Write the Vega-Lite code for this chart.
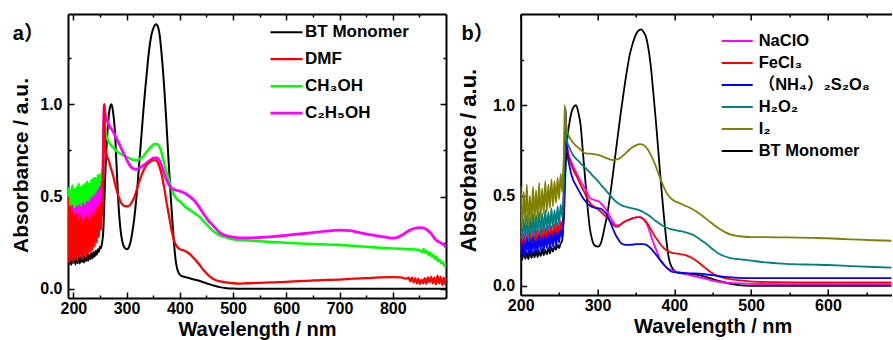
{
  "$schema": "https://vega.github.io/schema/vega-lite/v6.json",
  "background": "white",
  "padding": {"left": 10, "top": 13, "right": 0, "bottom": 0},
  "bounds": "flush",
  "spacing": 74.7,
  "resolve": {"scale": {"color": "independent", "strokeWidth": "independent", "x": "independent", "y": "independent"}},
  "config": {
    "view": {"stroke": null},
    "font": "Liberation Sans",
    "axis": {
      "grid": false,
      "domainColor": "#000",
      "domainWidth": 2,
      "tickColor": "#000",
      "tickWidth": 1.5,
      "labelFont": "Liberation Sans",
      "labelFontSize": 16,
      "labelFontWeight": "bold",
      "labelColor": "#000",
      "labelFlush": false,
      "labelOverlap": false,
      "titleFont": "Liberation Sans",
      "titleFontWeight": "bold",
      "titleColor": "#000"
    },
    "legend": {
      "orient": "none",
      "title": null,
      "padding": 0,
      "rowPadding": 0,
      "symbolType": "stroke",
      "labelFont": "Liberation Sans, Noto Sans CJK SC",
      "labelFontWeight": "bold",
      "labelColor": "#000",
      "labelLimit": 300
    }
  },
  "datasets": {
    "a": [
      {"set":"BT Monomer","nm":190,"A":0.17},{"set":"BT Monomer","nm":192,"A":0.135},{"set":"BT Monomer","nm":194,"A":0.18},{"set":"BT Monomer","nm":196,"A":0.13},{"set":"BT Monomer","nm":198,"A":0.165},{"set":"BT Monomer","nm":200,"A":0.14},{"set":"BT Monomer","nm":202,"A":0.178},{"set":"BT Monomer","nm":204,"A":0.132},{"set":"BT Monomer","nm":206,"A":0.17},{"set":"BT Monomer","nm":208,"A":0.14},{"set":"BT Monomer","nm":210,"A":0.182},{"set":"BT Monomer","nm":212,"A":0.137},{"set":"BT Monomer","nm":214,"A":0.172},{"set":"BT Monomer","nm":216,"A":0.145},{"set":"BT Monomer","nm":218,"A":0.185},{"set":"BT Monomer","nm":220,"A":0.142},{"set":"BT Monomer","nm":222,"A":0.176},{"set":"BT Monomer","nm":224,"A":0.15},{"set":"BT Monomer","nm":226,"A":0.188},{"set":"BT Monomer","nm":228,"A":0.152},{"set":"BT Monomer","nm":230,"A":0.185},{"set":"BT Monomer","nm":232,"A":0.16},{"set":"BT Monomer","nm":234,"A":0.195},{"set":"BT Monomer","nm":236,"A":0.165},{"set":"BT Monomer","nm":238,"A":0.2},{"set":"BT Monomer","nm":240,"A":0.175},{"set":"BT Monomer","nm":242,"A":0.205},{"set":"BT Monomer","nm":244,"A":0.185},{"set":"BT Monomer","nm":246,"A":0.215},{"set":"BT Monomer","nm":248,"A":0.2},{"set":"BT Monomer","nm":250,"A":0.228},{"set":"BT Monomer","nm":252,"A":0.22},{"set":"BT Monomer","nm":254,"A":0.25},{"set":"BT Monomer","nm":256,"A":0.3},{"set":"BT Monomer","nm":258.5,"A":0.49},{"set":"BT Monomer","nm":260,"A":0.62},{"set":"BT Monomer","nm":263,"A":0.8},{"set":"BT Monomer","nm":266,"A":0.92},{"set":"BT Monomer","nm":269,"A":0.985},{"set":"BT Monomer","nm":272,"A":1.0},{"set":"BT Monomer","nm":275,"A":0.95},{"set":"BT Monomer","nm":278,"A":0.86},{"set":"BT Monomer","nm":281,"A":0.68},{"set":"BT Monomer","nm":284,"A":0.5},{"set":"BT Monomer","nm":287,"A":0.37},{"set":"BT Monomer","nm":290,"A":0.29},{"set":"BT Monomer","nm":294,"A":0.235},{"set":"BT Monomer","nm":298,"A":0.218},{"set":"BT Monomer","nm":302,"A":0.215},{"set":"BT Monomer","nm":305,"A":0.23},{"set":"BT Monomer","nm":308,"A":0.26},{"set":"BT Monomer","nm":311,"A":0.31},{"set":"BT Monomer","nm":314,"A":0.37},{"set":"BT Monomer","nm":317,"A":0.45},{"set":"BT Monomer","nm":320,"A":0.54},{"set":"BT Monomer","nm":323,"A":0.65},{"set":"BT Monomer","nm":326,"A":0.76},{"set":"BT Monomer","nm":329,"A":0.87},{"set":"BT Monomer","nm":332,"A":0.98},{"set":"BT Monomer","nm":335,"A":1.08},{"set":"BT Monomer","nm":338,"A":1.17},{"set":"BT Monomer","nm":341,"A":1.26},{"set":"BT Monomer","nm":344,"A":1.33},{"set":"BT Monomer","nm":347,"A":1.38},{"set":"BT Monomer","nm":350,"A":1.41},{"set":"BT Monomer","nm":353,"A":1.43},{"set":"BT Monomer","nm":356,"A":1.435},{"set":"BT Monomer","nm":359,"A":1.42},{"set":"BT Monomer","nm":362,"A":1.38},{"set":"BT Monomer","nm":365,"A":1.3},{"set":"BT Monomer","nm":368,"A":1.2},{"set":"BT Monomer","nm":371,"A":1.08},{"set":"BT Monomer","nm":374,"A":0.94},{"set":"BT Monomer","nm":377,"A":0.79},{"set":"BT Monomer","nm":380,"A":0.64},{"set":"BT Monomer","nm":383,"A":0.5},{"set":"BT Monomer","nm":386,"A":0.37},{"set":"BT Monomer","nm":389,"A":0.25},{"set":"BT Monomer","nm":392,"A":0.16},{"set":"BT Monomer","nm":395,"A":0.11},{"set":"BT Monomer","nm":398,"A":0.085},{"set":"BT Monomer","nm":402,"A":0.072},{"set":"BT Monomer","nm":408,"A":0.065},{"set":"BT Monomer","nm":415,"A":0.06},{"set":"BT Monomer","nm":425,"A":0.052},{"set":"BT Monomer","nm":435,"A":0.045},{"set":"BT Monomer","nm":445,"A":0.035},{"set":"BT Monomer","nm":455,"A":0.025},{"set":"BT Monomer","nm":465,"A":0.016},{"set":"BT Monomer","nm":475,"A":0.009},{"set":"BT Monomer","nm":485,"A":0.004},{"set":"BT Monomer","nm":500,"A":0.001},{"set":"BT Monomer","nm":550,"A":0},{"set":"BT Monomer","nm":650,"A":0},{"set":"BT Monomer","nm":750,"A":0},{"set":"BT Monomer","nm":850,"A":0},{"set":"BT Monomer","nm":900,"A":0},

      {"set":"CH₃OH","nm":190,"A":0.55},{"set":"CH₃OH","nm":192,"A":0.3},{"set":"CH₃OH","nm":194,"A":0.53},{"set":"CH₃OH","nm":196,"A":0.33},{"set":"CH₃OH","nm":198,"A":0.56},{"set":"CH₃OH","nm":200,"A":0.32},{"set":"CH₃OH","nm":202,"A":0.54},{"set":"CH₃OH","nm":204,"A":0.34},{"set":"CH₃OH","nm":206,"A":0.55},{"set":"CH₃OH","nm":208,"A":0.33},{"set":"CH₃OH","nm":210,"A":0.57},{"set":"CH₃OH","nm":212,"A":0.36},{"set":"CH₃OH","nm":214,"A":0.55},{"set":"CH₃OH","nm":216,"A":0.35},{"set":"CH₃OH","nm":218,"A":0.56},{"set":"CH₃OH","nm":220,"A":0.38},{"set":"CH₃OH","nm":222,"A":0.57},{"set":"CH₃OH","nm":224,"A":0.37},{"set":"CH₃OH","nm":226,"A":0.58},{"set":"CH₃OH","nm":228,"A":0.4},{"set":"CH₃OH","nm":230,"A":0.57},{"set":"CH₃OH","nm":232,"A":0.41},{"set":"CH₃OH","nm":234,"A":0.59},{"set":"CH₃OH","nm":236,"A":0.43},{"set":"CH₃OH","nm":238,"A":0.6},{"set":"CH₃OH","nm":240,"A":0.44},{"set":"CH₃OH","nm":242,"A":0.6},{"set":"CH₃OH","nm":244,"A":0.47},{"set":"CH₃OH","nm":246,"A":0.62},{"set":"CH₃OH","nm":248,"A":0.5},{"set":"CH₃OH","nm":250,"A":0.62},{"set":"CH₃OH","nm":252,"A":0.54},{"set":"CH₃OH","nm":254,"A":0.65},{"set":"CH₃OH","nm":255,"A":0.6},{"set":"CH₃OH","nm":256,"A":0.7},{"set":"CH₃OH","nm":257,"A":0.85},{"set":"CH₃OH","nm":258,"A":0.92},{"set":"CH₃OH","nm":259,"A":0.88},{"set":"CH₃OH","nm":261,"A":0.84},{"set":"CH₃OH","nm":264,"A":0.81},{"set":"CH₃OH","nm":268,"A":0.79},{"set":"CH₃OH","nm":272,"A":0.775},{"set":"CH₃OH","nm":277,"A":0.76},{"set":"CH₃OH","nm":282,"A":0.745},{"set":"CH₃OH","nm":287,"A":0.735},{"set":"CH₃OH","nm":292,"A":0.728},{"set":"CH₃OH","nm":297,"A":0.72},{"set":"CH₃OH","nm":302,"A":0.712},{"set":"CH₃OH","nm":307,"A":0.705},{"set":"CH₃OH","nm":312,"A":0.7},{"set":"CH₃OH","nm":317,"A":0.697},{"set":"CH₃OH","nm":322,"A":0.7},{"set":"CH₃OH","nm":327,"A":0.708},{"set":"CH₃OH","nm":332,"A":0.72},{"set":"CH₃OH","nm":337,"A":0.74},{"set":"CH₃OH","nm":342,"A":0.758},{"set":"CH₃OH","nm":347,"A":0.773},{"set":"CH₃OH","nm":352,"A":0.785},{"set":"CH₃OH","nm":357,"A":0.785},{"set":"CH₃OH","nm":361,"A":0.775},{"set":"CH₃OH","nm":365,"A":0.745},{"set":"CH₃OH","nm":369,"A":0.7},{"set":"CH₃OH","nm":373,"A":0.655},{"set":"CH₃OH","nm":377,"A":0.613},{"set":"CH₃OH","nm":381,"A":0.575},{"set":"CH₃OH","nm":385,"A":0.54},{"set":"CH₃OH","nm":390,"A":0.505},{"set":"CH₃OH","nm":395,"A":0.485},{"set":"CH₃OH","nm":400,"A":0.475},{"set":"CH₃OH","nm":405,"A":0.46},{"set":"CH₃OH","nm":410,"A":0.445},{"set":"CH₃OH","nm":415,"A":0.435},{"set":"CH₃OH","nm":420,"A":0.425},{"set":"CH₃OH","nm":425,"A":0.415},{"set":"CH₃OH","nm":430,"A":0.405},{"set":"CH₃OH","nm":437,"A":0.39},{"set":"CH₃OH","nm":445,"A":0.365},{"set":"CH₃OH","nm":455,"A":0.335},{"set":"CH₃OH","nm":462,"A":0.315},{"set":"CH₃OH","nm":475,"A":0.29},{"set":"CH₃OH","nm":487,"A":0.279},{"set":"CH₃OH","nm":500,"A":0.268},{"set":"CH₃OH","nm":525,"A":0.263},{"set":"CH₃OH","nm":550,"A":0.258},{"set":"CH₃OH","nm":575,"A":0.254},{"set":"CH₃OH","nm":600,"A":0.25},{"set":"CH₃OH","nm":625,"A":0.246},{"set":"CH₃OH","nm":650,"A":0.243},{"set":"CH₃OH","nm":675,"A":0.24},{"set":"CH₃OH","nm":700,"A":0.238},{"set":"CH₃OH","nm":725,"A":0.233},{"set":"CH₃OH","nm":750,"A":0.228},{"set":"CH₃OH","nm":775,"A":0.223},{"set":"CH₃OH","nm":800,"A":0.219},{"set":"CH₃OH","nm":825,"A":0.215},{"set":"CH₃OH","nm":850,"A":0.21},{"set":"CH₃OH","nm":855,"A":0.2},{"set":"CH₃OH","nm":858,"A":0.215},{"set":"CH₃OH","nm":861,"A":0.195},{"set":"CH₃OH","nm":864,"A":0.205},{"set":"CH₃OH","nm":867,"A":0.185},{"set":"CH₃OH","nm":870,"A":0.196},{"set":"CH₃OH","nm":873,"A":0.175},{"set":"CH₃OH","nm":876,"A":0.185},{"set":"CH₃OH","nm":879,"A":0.162},{"set":"CH₃OH","nm":882,"A":0.172},{"set":"CH₃OH","nm":885,"A":0.15},{"set":"CH₃OH","nm":888,"A":0.158},{"set":"CH₃OH","nm":891,"A":0.138},{"set":"CH₃OH","nm":894,"A":0.145},{"set":"CH₃OH","nm":897,"A":0.125},{"set":"CH₃OH","nm":900,"A":0.13},

      {"set":"C₂H₅OH","nm":190,"A":0.44},{"set":"C₂H₅OH","nm":192,"A":0.29},{"set":"C₂H₅OH","nm":194,"A":0.43},{"set":"C₂H₅OH","nm":196,"A":0.3},{"set":"C₂H₅OH","nm":198,"A":0.45},{"set":"C₂H₅OH","nm":200,"A":0.31},{"set":"C₂H₅OH","nm":202,"A":0.43},{"set":"C₂H₅OH","nm":204,"A":0.3},{"set":"C₂H₅OH","nm":206,"A":0.44},{"set":"C₂H₅OH","nm":208,"A":0.32},{"set":"C₂H₅OH","nm":210,"A":0.45},{"set":"C₂H₅OH","nm":212,"A":0.33},{"set":"C₂H₅OH","nm":214,"A":0.44},{"set":"C₂H₅OH","nm":216,"A":0.32},{"set":"C₂H₅OH","nm":218,"A":0.46},{"set":"C₂H₅OH","nm":220,"A":0.34},{"set":"C₂H₅OH","nm":222,"A":0.45},{"set":"C₂H₅OH","nm":224,"A":0.35},{"set":"C₂H₅OH","nm":226,"A":0.47},{"set":"C₂H₅OH","nm":228,"A":0.36},{"set":"C₂H₅OH","nm":230,"A":0.47},{"set":"C₂H₅OH","nm":232,"A":0.37},{"set":"C₂H₅OH","nm":234,"A":0.49},{"set":"C₂H₅OH","nm":236,"A":0.38},{"set":"C₂H₅OH","nm":238,"A":0.5},{"set":"C₂H₅OH","nm":240,"A":0.4},{"set":"C₂H₅OH","nm":242,"A":0.51},{"set":"C₂H₅OH","nm":244,"A":0.42},{"set":"C₂H₅OH","nm":246,"A":0.53},{"set":"C₂H₅OH","nm":248,"A":0.44},{"set":"C₂H₅OH","nm":250,"A":0.55},{"set":"C₂H₅OH","nm":252,"A":0.48},{"set":"C₂H₅OH","nm":254,"A":0.58},{"set":"C₂H₅OH","nm":255,"A":0.56},{"set":"C₂H₅OH","nm":256,"A":0.68},{"set":"C₂H₅OH","nm":257,"A":0.88},{"set":"C₂H₅OH","nm":258,"A":1.0},{"set":"C₂H₅OH","nm":259,"A":0.97},{"set":"C₂H₅OH","nm":261,"A":0.93},{"set":"C₂H₅OH","nm":264,"A":0.91},{"set":"C₂H₅OH","nm":268,"A":0.88},{"set":"C₂H₅OH","nm":272,"A":0.865},{"set":"C₂H₅OH","nm":277,"A":0.84},{"set":"C₂H₅OH","nm":282,"A":0.81},{"set":"C₂H₅OH","nm":287,"A":0.78},{"set":"C₂H₅OH","nm":292,"A":0.75},{"set":"C₂H₅OH","nm":297,"A":0.72},{"set":"C₂H₅OH","nm":302,"A":0.69},{"set":"C₂H₅OH","nm":307,"A":0.665},{"set":"C₂H₅OH","nm":312,"A":0.652},{"set":"C₂H₅OH","nm":317,"A":0.648},{"set":"C₂H₅OH","nm":322,"A":0.652},{"set":"C₂H₅OH","nm":327,"A":0.66},{"set":"C₂H₅OH","nm":332,"A":0.67},{"set":"C₂H₅OH","nm":337,"A":0.68},{"set":"C₂H₅OH","nm":342,"A":0.692},{"set":"C₂H₅OH","nm":347,"A":0.703},{"set":"C₂H₅OH","nm":352,"A":0.71},{"set":"C₂H₅OH","nm":357,"A":0.71},{"set":"C₂H₅OH","nm":361,"A":0.7},{"set":"C₂H₅OH","nm":365,"A":0.675},{"set":"C₂H₅OH","nm":369,"A":0.64},{"set":"C₂H₅OH","nm":373,"A":0.605},{"set":"C₂H₅OH","nm":377,"A":0.578},{"set":"C₂H₅OH","nm":381,"A":0.558},{"set":"C₂H₅OH","nm":385,"A":0.545},{"set":"C₂H₅OH","nm":390,"A":0.537},{"set":"C₂H₅OH","nm":395,"A":0.533},{"set":"C₂H₅OH","nm":400,"A":0.53},{"set":"C₂H₅OH","nm":405,"A":0.525},{"set":"C₂H₅OH","nm":410,"A":0.518},{"set":"C₂H₅OH","nm":415,"A":0.508},{"set":"C₂H₅OH","nm":420,"A":0.497},{"set":"C₂H₅OH","nm":425,"A":0.485},{"set":"C₂H₅OH","nm":430,"A":0.468},{"set":"C₂H₅OH","nm":437,"A":0.44},{"set":"C₂H₅OH","nm":445,"A":0.405},{"set":"C₂H₅OH","nm":455,"A":0.365},{"set":"C₂H₅OH","nm":462,"A":0.345},{"set":"C₂H₅OH","nm":475,"A":0.305},{"set":"C₂H₅OH","nm":487,"A":0.288},{"set":"C₂H₅OH","nm":500,"A":0.28},{"set":"C₂H₅OH","nm":512,"A":0.276},{"set":"C₂H₅OH","nm":525,"A":0.276},{"set":"C₂H₅OH","nm":550,"A":0.278},{"set":"C₂H₅OH","nm":575,"A":0.283},{"set":"C₂H₅OH","nm":600,"A":0.29},{"set":"C₂H₅OH","nm":625,"A":0.297},{"set":"C₂H₅OH","nm":650,"A":0.305},{"set":"C₂H₅OH","nm":675,"A":0.313},{"set":"C₂H₅OH","nm":700,"A":0.318},{"set":"C₂H₅OH","nm":720,"A":0.315},{"set":"C₂H₅OH","nm":740,"A":0.303},{"set":"C₂H₅OH","nm":760,"A":0.292},{"set":"C₂H₅OH","nm":780,"A":0.283},{"set":"C₂H₅OH","nm":800,"A":0.275},{"set":"C₂H₅OH","nm":810,"A":0.28},{"set":"C₂H₅OH","nm":820,"A":0.296},{"set":"C₂H₅OH","nm":830,"A":0.315},{"set":"C₂H₅OH","nm":840,"A":0.327},{"set":"C₂H₅OH","nm":850,"A":0.332},{"set":"C₂H₅OH","nm":858,"A":0.33},{"set":"C₂H₅OH","nm":865,"A":0.318},{"set":"C₂H₅OH","nm":872,"A":0.3},{"set":"C₂H₅OH","nm":878,"A":0.275},{"set":"C₂H₅OH","nm":884,"A":0.258},{"set":"C₂H₅OH","nm":890,"A":0.25},{"set":"C₂H₅OH","nm":895,"A":0.24},{"set":"C₂H₅OH","nm":900,"A":0.225},

      {"set":"DMF","nm":190,"A":0.5},{"set":"DMF","nm":192,"A":0.14},{"set":"DMF","nm":194,"A":0.45},{"set":"DMF","nm":196,"A":0.15},{"set":"DMF","nm":198,"A":0.42},{"set":"DMF","nm":200,"A":0.14},{"set":"DMF","nm":202,"A":0.4},{"set":"DMF","nm":204,"A":0.16},{"set":"DMF","nm":206,"A":0.41},{"set":"DMF","nm":208,"A":0.15},{"set":"DMF","nm":210,"A":0.38},{"set":"DMF","nm":212,"A":0.17},{"set":"DMF","nm":214,"A":0.4},{"set":"DMF","nm":216,"A":0.16},{"set":"DMF","nm":218,"A":0.37},{"set":"DMF","nm":220,"A":0.18},{"set":"DMF","nm":222,"A":0.39},{"set":"DMF","nm":224,"A":0.17},{"set":"DMF","nm":226,"A":0.4},{"set":"DMF","nm":228,"A":0.19},{"set":"DMF","nm":230,"A":0.38},{"set":"DMF","nm":232,"A":0.2},{"set":"DMF","nm":234,"A":0.42},{"set":"DMF","nm":236,"A":0.21},{"set":"DMF","nm":238,"A":0.4},{"set":"DMF","nm":240,"A":0.23},{"set":"DMF","nm":242,"A":0.44},{"set":"DMF","nm":244,"A":0.25},{"set":"DMF","nm":246,"A":0.45},{"set":"DMF","nm":248,"A":0.28},{"set":"DMF","nm":250,"A":0.47},{"set":"DMF","nm":252,"A":0.32},{"set":"DMF","nm":254,"A":0.5},{"set":"DMF","nm":255,"A":0.4},{"set":"DMF","nm":256,"A":0.6},{"set":"DMF","nm":257,"A":0.85},{"set":"DMF","nm":258,"A":1.0},{"set":"DMF","nm":259,"A":0.85},{"set":"DMF","nm":260,"A":0.76},{"set":"DMF","nm":263,"A":0.72},{"set":"DMF","nm":266,"A":0.7},{"set":"DMF","nm":270,"A":0.66},{"set":"DMF","nm":275,"A":0.61},{"set":"DMF","nm":280,"A":0.55},{"set":"DMF","nm":285,"A":0.5},{"set":"DMF","nm":290,"A":0.465},{"set":"DMF","nm":295,"A":0.45},{"set":"DMF","nm":300,"A":0.447},{"set":"DMF","nm":305,"A":0.45},{"set":"DMF","nm":310,"A":0.47},{"set":"DMF","nm":315,"A":0.5},{"set":"DMF","nm":320,"A":0.545},{"set":"DMF","nm":325,"A":0.59},{"set":"DMF","nm":330,"A":0.63},{"set":"DMF","nm":335,"A":0.66},{"set":"DMF","nm":340,"A":0.68},{"set":"DMF","nm":345,"A":0.69},{"set":"DMF","nm":350,"A":0.697},{"set":"DMF","nm":355,"A":0.698},{"set":"DMF","nm":360,"A":0.675},{"set":"DMF","nm":365,"A":0.63},{"set":"DMF","nm":370,"A":0.56},{"set":"DMF","nm":375,"A":0.47},{"set":"DMF","nm":380,"A":0.39},{"set":"DMF","nm":385,"A":0.31},{"set":"DMF","nm":390,"A":0.255},{"set":"DMF","nm":395,"A":0.228},{"set":"DMF","nm":400,"A":0.215},{"set":"DMF","nm":405,"A":0.21},{"set":"DMF","nm":410,"A":0.205},{"set":"DMF","nm":415,"A":0.197},{"set":"DMF","nm":420,"A":0.185},{"set":"DMF","nm":425,"A":0.17},{"set":"DMF","nm":430,"A":0.155},{"set":"DMF","nm":437,"A":0.13},{"set":"DMF","nm":445,"A":0.1},{"set":"DMF","nm":455,"A":0.07},{"set":"DMF","nm":465,"A":0.05},{"set":"DMF","nm":475,"A":0.04},{"set":"DMF","nm":487,"A":0.035},{"set":"DMF","nm":500,"A":0.03},{"set":"DMF","nm":512,"A":0.028},{"set":"DMF","nm":525,"A":0.03},{"set":"DMF","nm":550,"A":0.032},{"set":"DMF","nm":575,"A":0.035},{"set":"DMF","nm":600,"A":0.038},{"set":"DMF","nm":625,"A":0.042},{"set":"DMF","nm":650,"A":0.045},{"set":"DMF","nm":675,"A":0.048},{"set":"DMF","nm":700,"A":0.05},{"set":"DMF","nm":725,"A":0.055},{"set":"DMF","nm":750,"A":0.058},{"set":"DMF","nm":775,"A":0.062},{"set":"DMF","nm":800,"A":0.063},{"set":"DMF","nm":815,"A":0.062},{"set":"DMF","nm":825,"A":0.055},{"set":"DMF","nm":830,"A":0.06},{"set":"DMF","nm":833,"A":0.04},{"set":"DMF","nm":836,"A":0.062},{"set":"DMF","nm":839,"A":0.035},{"set":"DMF","nm":842,"A":0.058},{"set":"DMF","nm":845,"A":0.03},{"set":"DMF","nm":848,"A":0.055},{"set":"DMF","nm":851,"A":0.025},{"set":"DMF","nm":854,"A":0.05},{"set":"DMF","nm":857,"A":0.03},{"set":"DMF","nm":860,"A":0.058},{"set":"DMF","nm":863,"A":0.028},{"set":"DMF","nm":866,"A":0.062},{"set":"DMF","nm":869,"A":0.035},{"set":"DMF","nm":872,"A":0.065},{"set":"DMF","nm":875,"A":0.03},{"set":"DMF","nm":878,"A":0.06},{"set":"DMF","nm":881,"A":0.025},{"set":"DMF","nm":884,"A":0.07},{"set":"DMF","nm":887,"A":0.03},{"set":"DMF","nm":890,"A":0.065},{"set":"DMF","nm":893,"A":0.02},{"set":"DMF","nm":896,"A":0.06},{"set":"DMF","nm":899,"A":0.025},{"set":"DMF","nm":900,"A":0.04}
    ],
    "b": [
      {"set":"BT Monomer","nm":200,"A":0.19},{"set":"BT Monomer","nm":202,"A":0.145},{"set":"BT Monomer","nm":204,"A":0.2},{"set":"BT Monomer","nm":206,"A":0.15},{"set":"BT Monomer","nm":208,"A":0.185},{"set":"BT Monomer","nm":210,"A":0.148},{"set":"BT Monomer","nm":212,"A":0.195},{"set":"BT Monomer","nm":214,"A":0.155},{"set":"BT Monomer","nm":216,"A":0.19},{"set":"BT Monomer","nm":218,"A":0.158},{"set":"BT Monomer","nm":220,"A":0.2},{"set":"BT Monomer","nm":222,"A":0.16},{"set":"BT Monomer","nm":224,"A":0.196},{"set":"BT Monomer","nm":226,"A":0.165},{"set":"BT Monomer","nm":228,"A":0.205},{"set":"BT Monomer","nm":230,"A":0.17},{"set":"BT Monomer","nm":232,"A":0.2},{"set":"BT Monomer","nm":234,"A":0.175},{"set":"BT Monomer","nm":236,"A":0.21},{"set":"BT Monomer","nm":238,"A":0.18},{"set":"BT Monomer","nm":240,"A":0.215},{"set":"BT Monomer","nm":242,"A":0.19},{"set":"BT Monomer","nm":244,"A":0.22},{"set":"BT Monomer","nm":246,"A":0.2},{"set":"BT Monomer","nm":248,"A":0.228},{"set":"BT Monomer","nm":250,"A":0.21},{"set":"BT Monomer","nm":252,"A":0.235},{"set":"BT Monomer","nm":254,"A":0.25},{"set":"BT Monomer","nm":255,"A":0.3},{"set":"BT Monomer","nm":256.5,"A":0.4},{"set":"BT Monomer","nm":258,"A":0.6},{"set":"BT Monomer","nm":260,"A":0.78},{"set":"BT Monomer","nm":263,"A":0.89},{"set":"BT Monomer","nm":266,"A":0.96},{"set":"BT Monomer","nm":269,"A":0.99},{"set":"BT Monomer","nm":272,"A":1.0},{"set":"BT Monomer","nm":275,"A":0.96},{"set":"BT Monomer","nm":278,"A":0.89},{"set":"BT Monomer","nm":281,"A":0.74},{"set":"BT Monomer","nm":284,"A":0.59},{"set":"BT Monomer","nm":287,"A":0.44},{"set":"BT Monomer","nm":290,"A":0.32},{"set":"BT Monomer","nm":293,"A":0.255},{"set":"BT Monomer","nm":296,"A":0.225},{"set":"BT Monomer","nm":300,"A":0.218},{"set":"BT Monomer","nm":303,"A":0.225},{"set":"BT Monomer","nm":306,"A":0.26},{"set":"BT Monomer","nm":309,"A":0.32},{"set":"BT Monomer","nm":312,"A":0.38},{"set":"BT Monomer","nm":315,"A":0.46},{"set":"BT Monomer","nm":318,"A":0.55},{"set":"BT Monomer","nm":321,"A":0.65},{"set":"BT Monomer","nm":324,"A":0.75},{"set":"BT Monomer","nm":327,"A":0.85},{"set":"BT Monomer","nm":330,"A":0.95},{"set":"BT Monomer","nm":333,"A":1.04},{"set":"BT Monomer","nm":336,"A":1.13},{"set":"BT Monomer","nm":339,"A":1.21},{"set":"BT Monomer","nm":342,"A":1.28},{"set":"BT Monomer","nm":345,"A":1.33},{"set":"BT Monomer","nm":348,"A":1.37},{"set":"BT Monomer","nm":351,"A":1.4},{"set":"BT Monomer","nm":354,"A":1.415},{"set":"BT Monomer","nm":357,"A":1.42},{"set":"BT Monomer","nm":360,"A":1.405},{"set":"BT Monomer","nm":363,"A":1.38},{"set":"BT Monomer","nm":366,"A":1.32},{"set":"BT Monomer","nm":369,"A":1.23},{"set":"BT Monomer","nm":372,"A":1.1},{"set":"BT Monomer","nm":375,"A":0.96},{"set":"BT Monomer","nm":378,"A":0.81},{"set":"BT Monomer","nm":381,"A":0.65},{"set":"BT Monomer","nm":384,"A":0.5},{"set":"BT Monomer","nm":387,"A":0.36},{"set":"BT Monomer","nm":390,"A":0.24},{"set":"BT Monomer","nm":393,"A":0.15},{"set":"BT Monomer","nm":396,"A":0.11},{"set":"BT Monomer","nm":400,"A":0.085},{"set":"BT Monomer","nm":405,"A":0.075},{"set":"BT Monomer","nm":412,"A":0.068},{"set":"BT Monomer","nm":420,"A":0.065},{"set":"BT Monomer","nm":432,"A":0.06},{"set":"BT Monomer","nm":445,"A":0.045},{"set":"BT Monomer","nm":458,"A":0.028},{"set":"BT Monomer","nm":470,"A":0.015},{"set":"BT Monomer","nm":484,"A":0.005},{"set":"BT Monomer","nm":500,"A":0.001},{"set":"BT Monomer","nm":525,"A":0},{"set":"BT Monomer","nm":600,"A":0},{"set":"BT Monomer","nm":683,"A":0},

      {"set":"NaClO","nm":200,"A":0.29},{"set":"NaClO","nm":202,"A":0.2},{"set":"NaClO","nm":204,"A":0.28},{"set":"NaClO","nm":206,"A":0.21},{"set":"NaClO","nm":208,"A":0.3},{"set":"NaClO","nm":210,"A":0.2},{"set":"NaClO","nm":212,"A":0.29},{"set":"NaClO","nm":214,"A":0.22},{"set":"NaClO","nm":216,"A":0.31},{"set":"NaClO","nm":218,"A":0.21},{"set":"NaClO","nm":220,"A":0.3},{"set":"NaClO","nm":222,"A":0.23},{"set":"NaClO","nm":224,"A":0.31},{"set":"NaClO","nm":226,"A":0.22},{"set":"NaClO","nm":228,"A":0.32},{"set":"NaClO","nm":230,"A":0.24},{"set":"NaClO","nm":232,"A":0.31},{"set":"NaClO","nm":234,"A":0.24},{"set":"NaClO","nm":236,"A":0.33},{"set":"NaClO","nm":238,"A":0.25},{"set":"NaClO","nm":240,"A":0.32},{"set":"NaClO","nm":242,"A":0.26},{"set":"NaClO","nm":244,"A":0.34},{"set":"NaClO","nm":246,"A":0.26},{"set":"NaClO","nm":248,"A":0.35},{"set":"NaClO","nm":250,"A":0.28},{"set":"NaClO","nm":252,"A":0.36},{"set":"NaClO","nm":254,"A":0.3},{"set":"NaClO","nm":255,"A":0.36},{"set":"NaClO","nm":256,"A":0.5},{"set":"NaClO","nm":257,"A":0.75},{"set":"NaClO","nm":258,"A":0.9},{"set":"NaClO","nm":259.5,"A":0.82},{"set":"NaClO","nm":261,"A":0.76},{"set":"NaClO","nm":263,"A":0.72},{"set":"NaClO","nm":266,"A":0.685},{"set":"NaClO","nm":269.5,"A":0.651},{"set":"NaClO","nm":273,"A":0.622},{"set":"NaClO","nm":276,"A":0.597},{"set":"NaClO","nm":279,"A":0.572},{"set":"NaClO","nm":282.5,"A":0.549},{"set":"NaClO","nm":286,"A":0.52},{"set":"NaClO","nm":289,"A":0.494},{"set":"NaClO","nm":292,"A":0.482},{"set":"NaClO","nm":295.5,"A":0.476},{"set":"NaClO","nm":299,"A":0.472},{"set":"NaClO","nm":302,"A":0.467},{"set":"NaClO","nm":305,"A":0.455},{"set":"NaClO","nm":308.5,"A":0.439},{"set":"NaClO","nm":312,"A":0.415},{"set":"NaClO","nm":315,"A":0.393},{"set":"NaClO","nm":318,"A":0.37},{"set":"NaClO","nm":321,"A":0.35},{"set":"NaClO","nm":324,"A":0.337},{"set":"NaClO","nm":327,"A":0.335},{"set":"NaClO","nm":330,"A":0.34},{"set":"NaClO","nm":334,"A":0.352},{"set":"NaClO","nm":338,"A":0.362},{"set":"NaClO","nm":342,"A":0.368},{"set":"NaClO","nm":346,"A":0.375},{"set":"NaClO","nm":350,"A":0.38},{"set":"NaClO","nm":354,"A":0.381},{"set":"NaClO","nm":358,"A":0.376},{"set":"NaClO","nm":362,"A":0.358},{"set":"NaClO","nm":365,"A":0.335},{"set":"NaClO","nm":368,"A":0.3},{"set":"NaClO","nm":371,"A":0.26},{"set":"NaClO","nm":374,"A":0.225},{"set":"NaClO","nm":378,"A":0.183},{"set":"NaClO","nm":381,"A":0.15},{"set":"NaClO","nm":384.5,"A":0.13},{"set":"NaClO","nm":388,"A":0.11},{"set":"NaClO","nm":392,"A":0.095},{"set":"NaClO","nm":396,"A":0.088},{"set":"NaClO","nm":401,"A":0.08},{"set":"NaClO","nm":406,"A":0.076},{"set":"NaClO","nm":412,"A":0.07},{"set":"NaClO","nm":420,"A":0.06},{"set":"NaClO","nm":430,"A":0.05},{"set":"NaClO","nm":440,"A":0.04},{"set":"NaClO","nm":450,"A":0.03},{"set":"NaClO","nm":460,"A":0.022},{"set":"NaClO","nm":472,"A":0.017},{"set":"NaClO","nm":484,"A":0.014},{"set":"NaClO","nm":500,"A":0.012},{"set":"NaClO","nm":515,"A":0.011},{"set":"NaClO","nm":540,"A":0.01},{"set":"NaClO","nm":600,"A":0.01},{"set":"NaClO","nm":683,"A":0.01},

      {"set":"FeCl₃","nm":200,"A":0.28},{"set":"FeCl₃","nm":202,"A":0.21},{"set":"FeCl₃","nm":204,"A":0.29},{"set":"FeCl₃","nm":206,"A":0.2},{"set":"FeCl₃","nm":208,"A":0.27},{"set":"FeCl₃","nm":210,"A":0.22},{"set":"FeCl₃","nm":212,"A":0.3},{"set":"FeCl₃","nm":214,"A":0.21},{"set":"FeCl₃","nm":216,"A":0.28},{"set":"FeCl₃","nm":218,"A":0.23},{"set":"FeCl₃","nm":220,"A":0.31},{"set":"FeCl₃","nm":222,"A":0.22},{"set":"FeCl₃","nm":224,"A":0.29},{"set":"FeCl₃","nm":226,"A":0.24},{"set":"FeCl₃","nm":228,"A":0.31},{"set":"FeCl₃","nm":230,"A":0.23},{"set":"FeCl₃","nm":232,"A":0.32},{"set":"FeCl₃","nm":234,"A":0.25},{"set":"FeCl₃","nm":236,"A":0.31},{"set":"FeCl₃","nm":238,"A":0.26},{"set":"FeCl₃","nm":240,"A":0.33},{"set":"FeCl₃","nm":242,"A":0.25},{"set":"FeCl₃","nm":244,"A":0.34},{"set":"FeCl₃","nm":246,"A":0.27},{"set":"FeCl₃","nm":248,"A":0.34},{"set":"FeCl₃","nm":250,"A":0.28},{"set":"FeCl₃","nm":252,"A":0.35},{"set":"FeCl₃","nm":254,"A":0.31},{"set":"FeCl₃","nm":255,"A":0.36},{"set":"FeCl₃","nm":256,"A":0.48},{"set":"FeCl₃","nm":257,"A":0.72},{"set":"FeCl₃","nm":258,"A":0.88},{"set":"FeCl₃","nm":259.5,"A":0.8},{"set":"FeCl₃","nm":261,"A":0.74},{"set":"FeCl₃","nm":263,"A":0.71},{"set":"FeCl₃","nm":266,"A":0.67},{"set":"FeCl₃","nm":269.5,"A":0.633},{"set":"FeCl₃","nm":273,"A":0.605},{"set":"FeCl₃","nm":276,"A":0.578},{"set":"FeCl₃","nm":279,"A":0.55},{"set":"FeCl₃","nm":282.5,"A":0.522},{"set":"FeCl₃","nm":286,"A":0.49},{"set":"FeCl₃","nm":289,"A":0.467},{"set":"FeCl₃","nm":292,"A":0.45},{"set":"FeCl₃","nm":295.5,"A":0.44},{"set":"FeCl₃","nm":299,"A":0.43},{"set":"FeCl₃","nm":302,"A":0.42},{"set":"FeCl₃","nm":305,"A":0.407},{"set":"FeCl₃","nm":308.5,"A":0.393},{"set":"FeCl₃","nm":312,"A":0.38},{"set":"FeCl₃","nm":315,"A":0.365},{"set":"FeCl₃","nm":318,"A":0.35},{"set":"FeCl₃","nm":321,"A":0.336},{"set":"FeCl₃","nm":324,"A":0.328},{"set":"FeCl₃","nm":327,"A":0.33},{"set":"FeCl₃","nm":330,"A":0.34},{"set":"FeCl₃","nm":334,"A":0.352},{"set":"FeCl₃","nm":338,"A":0.362},{"set":"FeCl₃","nm":342,"A":0.368},{"set":"FeCl₃","nm":346,"A":0.375},{"set":"FeCl₃","nm":350,"A":0.38},{"set":"FeCl₃","nm":354,"A":0.381},{"set":"FeCl₃","nm":358,"A":0.376},{"set":"FeCl₃","nm":362,"A":0.362},{"set":"FeCl₃","nm":365,"A":0.345},{"set":"FeCl₃","nm":368,"A":0.324},{"set":"FeCl₃","nm":371,"A":0.302},{"set":"FeCl₃","nm":374,"A":0.279},{"set":"FeCl₃","nm":378,"A":0.255},{"set":"FeCl₃","nm":381,"A":0.236},{"set":"FeCl₃","nm":384.5,"A":0.218},{"set":"FeCl₃","nm":388,"A":0.203},{"set":"FeCl₃","nm":392,"A":0.192},{"set":"FeCl₃","nm":396,"A":0.185},{"set":"FeCl₃","nm":401,"A":0.18},{"set":"FeCl₃","nm":406,"A":0.178},{"set":"FeCl₃","nm":412,"A":0.173},{"set":"FeCl₃","nm":418,"A":0.165},{"set":"FeCl₃","nm":424,"A":0.152},{"set":"FeCl₃","nm":430,"A":0.135},{"set":"FeCl₃","nm":436,"A":0.115},{"set":"FeCl₃","nm":442,"A":0.094},{"set":"FeCl₃","nm":448,"A":0.075},{"set":"FeCl₃","nm":454,"A":0.06},{"set":"FeCl₃","nm":460,"A":0.05},{"set":"FeCl₃","nm":467,"A":0.042},{"set":"FeCl₃","nm":475,"A":0.037},{"set":"FeCl₃","nm":485,"A":0.031},{"set":"FeCl₃","nm":495,"A":0.027},{"set":"FeCl₃","nm":510,"A":0.023},{"set":"FeCl₃","nm":530,"A":0.021},{"set":"FeCl₃","nm":560,"A":0.02},{"set":"FeCl₃","nm":600,"A":0.02},{"set":"FeCl₃","nm":640,"A":0.02},{"set":"FeCl₃","nm":683,"A":0.02},

      {"set":"（NH₄）₂S₂O₈","nm":200,"A":0.26},{"set":"（NH₄）₂S₂O₈","nm":202,"A":0.17},{"set":"（NH₄）₂S₂O₈","nm":204,"A":0.25},{"set":"（NH₄）₂S₂O₈","nm":206,"A":0.16},{"set":"（NH₄）₂S₂O₈","nm":208,"A":0.27},{"set":"（NH₄）₂S₂O₈","nm":210,"A":0.18},{"set":"（NH₄）₂S₂O₈","nm":212,"A":0.26},{"set":"（NH₄）₂S₂O₈","nm":214,"A":0.17},{"set":"（NH₄）₂S₂O₈","nm":216,"A":0.27},{"set":"（NH₄）₂S₂O₈","nm":218,"A":0.19},{"set":"（NH₄）₂S₂O₈","nm":220,"A":0.26},{"set":"（NH₄）₂S₂O₈","nm":222,"A":0.18},{"set":"（NH₄）₂S₂O₈","nm":224,"A":0.28},{"set":"（NH₄）₂S₂O₈","nm":226,"A":0.2},{"set":"（NH₄）₂S₂O₈","nm":228,"A":0.27},{"set":"（NH₄）₂S₂O₈","nm":230,"A":0.19},{"set":"（NH₄）₂S₂O₈","nm":232,"A":0.28},{"set":"（NH₄）₂S₂O₈","nm":234,"A":0.21},{"set":"（NH₄）₂S₂O₈","nm":236,"A":0.29},{"set":"（NH₄）₂S₂O₈","nm":238,"A":0.2},{"set":"（NH₄）₂S₂O₈","nm":240,"A":0.29},{"set":"（NH₄）₂S₂O₈","nm":242,"A":0.22},{"set":"（NH₄）₂S₂O₈","nm":244,"A":0.3},{"set":"（NH₄）₂S₂O₈","nm":246,"A":0.22},{"set":"（NH₄）₂S₂O₈","nm":248,"A":0.3},{"set":"（NH₄）₂S₂O₈","nm":250,"A":0.24},{"set":"（NH₄）₂S₂O₈","nm":252,"A":0.31},{"set":"（NH₄）₂S₂O₈","nm":254,"A":0.27},{"set":"（NH₄）₂S₂O₈","nm":255,"A":0.32},{"set":"（NH₄）₂S₂O₈","nm":256,"A":0.45},{"set":"（NH₄）₂S₂O₈","nm":257,"A":0.7},{"set":"（NH₄）₂S₂O₈","nm":258.5,"A":0.98},{"set":"（NH₄）₂S₂O₈","nm":259.5,"A":0.85},{"set":"（NH₄）₂S₂O₈","nm":261,"A":0.725},{"set":"（NH₄）₂S₂O₈","nm":263,"A":0.675},{"set":"（NH₄）₂S₂O₈","nm":265,"A":0.633},{"set":"（NH₄）₂S₂O₈","nm":268,"A":0.59},{"set":"（NH₄）₂S₂O₈","nm":271.6,"A":0.559},{"set":"（NH₄）₂S₂O₈","nm":276,"A":0.525},{"set":"（NH₄）₂S₂O₈","nm":280,"A":0.494},{"set":"（NH₄）₂S₂O₈","nm":284,"A":0.47},{"set":"（NH₄）₂S₂O₈","nm":289,"A":0.448},{"set":"（NH₄）₂S₂O₈","nm":293,"A":0.437},{"set":"（NH₄）₂S₂O₈","nm":297,"A":0.432},{"set":"（NH₄）₂S₂O₈","nm":301,"A":0.43},{"set":"（NH₄）₂S₂O₈","nm":304,"A":0.428},{"set":"（NH₄）₂S₂O₈","nm":307,"A":0.418},{"set":"（NH₄）₂S₂O₈","nm":310.7,"A":0.402},{"set":"（NH₄）₂S₂O₈","nm":314,"A":0.378},{"set":"（NH₄）₂S₂O₈","nm":317.2,"A":0.347},{"set":"（NH₄）₂S₂O₈","nm":320.5,"A":0.312},{"set":"（NH₄）₂S₂O₈","nm":323.7,"A":0.282},{"set":"（NH₄）₂S₂O₈","nm":327,"A":0.258},{"set":"（NH₄）₂S₂O₈","nm":330,"A":0.24},{"set":"（NH₄）₂S₂O₈","nm":334,"A":0.23},{"set":"（NH₄）₂S₂O₈","nm":339,"A":0.227},{"set":"（NH₄）₂S₂O₈","nm":344,"A":0.228},{"set":"（NH₄）₂S₂O₈","nm":350,"A":0.231},{"set":"（NH₄）₂S₂O₈","nm":355,"A":0.232},{"set":"（NH₄）₂S₂O₈","nm":360,"A":0.231},{"set":"（NH₄）₂S₂O₈","nm":364,"A":0.226},{"set":"（NH₄）₂S₂O₈","nm":369,"A":0.209},{"set":"（NH₄）₂S₂O₈","nm":373,"A":0.19},{"set":"（NH₄）₂S₂O₈","nm":378,"A":0.163},{"set":"（NH₄）₂S₂O₈","nm":382,"A":0.14},{"set":"（NH₄）₂S₂O₈","nm":386.6,"A":0.117},{"set":"（NH₄）₂S₂O₈","nm":391,"A":0.097},{"set":"（NH₄）₂S₂O₈","nm":395,"A":0.083},{"set":"（NH₄）₂S₂O₈","nm":400,"A":0.076},{"set":"（NH₄）₂S₂O₈","nm":405,"A":0.073},{"set":"（NH₄）₂S₂O₈","nm":412,"A":0.072},{"set":"（NH₄）₂S₂O₈","nm":420,"A":0.07},{"set":"（NH₄）₂S₂O₈","nm":432,"A":0.068},{"set":"（NH₄）₂S₂O₈","nm":445,"A":0.062},{"set":"（NH₄）₂S₂O₈","nm":458,"A":0.055},{"set":"（NH₄）₂S₂O₈","nm":471,"A":0.049},{"set":"（NH₄）₂S₂O₈","nm":484,"A":0.045},{"set":"（NH₄）₂S₂O₈","nm":500,"A":0.043},{"set":"（NH₄）₂S₂O₈","nm":560,"A":0.043},{"set":"（NH₄）₂S₂O₈","nm":620,"A":0.043},{"set":"（NH₄）₂S₂O₈","nm":683,"A":0.043},

      {"set":"H₂O₂","nm":200,"A":0.4},{"set":"H₂O₂","nm":202,"A":0.26},{"set":"H₂O₂","nm":204,"A":0.37},{"set":"H₂O₂","nm":206,"A":0.27},{"set":"H₂O₂","nm":208,"A":0.39},{"set":"H₂O₂","nm":210,"A":0.25},{"set":"H₂O₂","nm":212,"A":0.38},{"set":"H₂O₂","nm":214,"A":0.28},{"set":"H₂O₂","nm":216,"A":0.4},{"set":"H₂O₂","nm":218,"A":0.27},{"set":"H₂O₂","nm":220,"A":0.39},{"set":"H₂O₂","nm":222,"A":0.29},{"set":"H₂O₂","nm":224,"A":0.41},{"set":"H₂O₂","nm":226,"A":0.28},{"set":"H₂O₂","nm":228,"A":0.4},{"set":"H₂O₂","nm":230,"A":0.3},{"set":"H₂O₂","nm":232,"A":0.42},{"set":"H₂O₂","nm":234,"A":0.3},{"set":"H₂O₂","nm":236,"A":0.41},{"set":"H₂O₂","nm":238,"A":0.31},{"set":"H₂O₂","nm":240,"A":0.43},{"set":"H₂O₂","nm":242,"A":0.32},{"set":"H₂O₂","nm":244,"A":0.42},{"set":"H₂O₂","nm":246,"A":0.33},{"set":"H₂O₂","nm":248,"A":0.44},{"set":"H₂O₂","nm":250,"A":0.34},{"set":"H₂O₂","nm":252,"A":0.45},{"set":"H₂O₂","nm":254,"A":0.38},{"set":"H₂O₂","nm":255,"A":0.44},{"set":"H₂O₂","nm":256,"A":0.55},{"set":"H₂O₂","nm":257,"A":0.78},{"set":"H₂O₂","nm":258,"A":0.92},{"set":"H₂O₂","nm":259.5,"A":0.82},{"set":"H₂O₂","nm":261,"A":0.79},{"set":"H₂O₂","nm":264,"A":0.76},{"set":"H₂O₂","nm":268,"A":0.725},{"set":"H₂O₂","nm":272,"A":0.705},{"set":"H₂O₂","nm":276,"A":0.688},{"set":"H₂O₂","nm":280,"A":0.67},{"set":"H₂O₂","nm":285,"A":0.65},{"set":"H₂O₂","nm":290,"A":0.628},{"set":"H₂O₂","nm":295,"A":0.605},{"set":"H₂O₂","nm":300,"A":0.583},{"set":"H₂O₂","nm":305,"A":0.557},{"set":"H₂O₂","nm":310,"A":0.533},{"set":"H₂O₂","nm":315,"A":0.508},{"set":"H₂O₂","nm":320,"A":0.484},{"set":"H₂O₂","nm":325,"A":0.463},{"set":"H₂O₂","nm":330,"A":0.449},{"set":"H₂O₂","nm":335,"A":0.44},{"set":"H₂O₂","nm":340,"A":0.435},{"set":"H₂O₂","nm":345,"A":0.43},{"set":"H₂O₂","nm":350,"A":0.425},{"set":"H₂O₂","nm":355,"A":0.418},{"set":"H₂O₂","nm":360,"A":0.408},{"set":"H₂O₂","nm":365,"A":0.395},{"set":"H₂O₂","nm":370,"A":0.38},{"set":"H₂O₂","nm":375,"A":0.362},{"set":"H₂O₂","nm":380,"A":0.347},{"set":"H₂O₂","nm":385,"A":0.333},{"set":"H₂O₂","nm":390,"A":0.322},{"set":"H₂O₂","nm":395,"A":0.315},{"set":"H₂O₂","nm":400,"A":0.31},{"set":"H₂O₂","nm":406,"A":0.305},{"set":"H₂O₂","nm":412,"A":0.3},{"set":"H₂O₂","nm":418,"A":0.293},{"set":"H₂O₂","nm":424,"A":0.284},{"set":"H₂O₂","nm":430,"A":0.268},{"set":"H₂O₂","nm":436,"A":0.25},{"set":"H₂O₂","nm":442,"A":0.232},{"set":"H₂O₂","nm":448,"A":0.21},{"set":"H₂O₂","nm":454,"A":0.19},{"set":"H₂O₂","nm":460,"A":0.174},{"set":"H₂O₂","nm":466,"A":0.163},{"set":"H₂O₂","nm":472,"A":0.156},{"set":"H₂O₂","nm":480,"A":0.15},{"set":"H₂O₂","nm":490,"A":0.145},{"set":"H₂O₂","nm":500,"A":0.14},{"set":"H₂O₂","nm":515,"A":0.132},{"set":"H₂O₂","nm":530,"A":0.127},{"set":"H₂O₂","nm":545,"A":0.122},{"set":"H₂O₂","nm":560,"A":0.12},{"set":"H₂O₂","nm":580,"A":0.118},{"set":"H₂O₂","nm":600,"A":0.116},{"set":"H₂O₂","nm":620,"A":0.112},{"set":"H₂O₂","nm":640,"A":0.108},{"set":"H₂O₂","nm":660,"A":0.105},{"set":"H₂O₂","nm":683,"A":0.102},

      {"set":"I₂","nm":200,"A":0.55},{"set":"I₂","nm":202,"A":0.32},{"set":"I₂","nm":204,"A":0.52},{"set":"I₂","nm":206,"A":0.34},{"set":"I₂","nm":208,"A":0.56},{"set":"I₂","nm":210,"A":0.33},{"set":"I₂","nm":212,"A":0.5},{"set":"I₂","nm":214,"A":0.35},{"set":"I₂","nm":216,"A":0.55},{"set":"I₂","nm":218,"A":0.36},{"set":"I₂","nm":220,"A":0.53},{"set":"I₂","nm":222,"A":0.37},{"set":"I₂","nm":224,"A":0.57},{"set":"I₂","nm":226,"A":0.38},{"set":"I₂","nm":228,"A":0.54},{"set":"I₂","nm":230,"A":0.4},{"set":"I₂","nm":232,"A":0.58},{"set":"I₂","nm":234,"A":0.41},{"set":"I₂","nm":236,"A":0.56},{"set":"I₂","nm":238,"A":0.43},{"set":"I₂","nm":240,"A":0.59},{"set":"I₂","nm":242,"A":0.44},{"set":"I₂","nm":244,"A":0.58},{"set":"I₂","nm":246,"A":0.46},{"set":"I₂","nm":248,"A":0.6},{"set":"I₂","nm":250,"A":0.48},{"set":"I₂","nm":252,"A":0.62},{"set":"I₂","nm":254,"A":0.52},{"set":"I₂","nm":255,"A":0.62},{"set":"I₂","nm":256,"A":0.7},{"set":"I₂","nm":257,"A":0.92},{"set":"I₂","nm":257.5,"A":1.0},{"set":"I₂","nm":259,"A":0.9},{"set":"I₂","nm":261,"A":0.85},{"set":"I₂","nm":264,"A":0.82},{"set":"I₂","nm":267,"A":0.8},{"set":"I₂","nm":271,"A":0.78},{"set":"I₂","nm":276,"A":0.762},{"set":"I₂","nm":280,"A":0.745},{"set":"I₂","nm":285,"A":0.733},{"set":"I₂","nm":290,"A":0.732},{"set":"I₂","nm":295,"A":0.73},{"set":"I₂","nm":300,"A":0.726},{"set":"I₂","nm":305,"A":0.72},{"set":"I₂","nm":310,"A":0.71},{"set":"I₂","nm":315,"A":0.702},{"set":"I₂","nm":320,"A":0.697},{"set":"I₂","nm":325,"A":0.7},{"set":"I₂","nm":330,"A":0.71},{"set":"I₂","nm":335,"A":0.728},{"set":"I₂","nm":340,"A":0.748},{"set":"I₂","nm":345,"A":0.766},{"set":"I₂","nm":350,"A":0.778},{"set":"I₂","nm":355,"A":0.785},{"set":"I₂","nm":360,"A":0.78},{"set":"I₂","nm":365,"A":0.758},{"set":"I₂","nm":370,"A":0.72},{"set":"I₂","nm":375,"A":0.672},{"set":"I₂","nm":380,"A":0.615},{"set":"I₂","nm":385,"A":0.56},{"set":"I₂","nm":390,"A":0.515},{"set":"I₂","nm":395,"A":0.487},{"set":"I₂","nm":400,"A":0.47},{"set":"I₂","nm":406,"A":0.46},{"set":"I₂","nm":412,"A":0.448},{"set":"I₂","nm":418,"A":0.437},{"set":"I₂","nm":424,"A":0.425},{"set":"I₂","nm":430,"A":0.408},{"set":"I₂","nm":436,"A":0.39},{"set":"I₂","nm":442,"A":0.37},{"set":"I₂","nm":448,"A":0.35},{"set":"I₂","nm":454,"A":0.33},{"set":"I₂","nm":460,"A":0.312},{"set":"I₂","nm":466,"A":0.298},{"set":"I₂","nm":472,"A":0.287},{"set":"I₂","nm":480,"A":0.278},{"set":"I₂","nm":490,"A":0.273},{"set":"I₂","nm":500,"A":0.27},{"set":"I₂","nm":520,"A":0.27},{"set":"I₂","nm":540,"A":0.269},{"set":"I₂","nm":560,"A":0.268},{"set":"I₂","nm":580,"A":0.266},{"set":"I₂","nm":600,"A":0.264},{"set":"I₂","nm":620,"A":0.26},{"set":"I₂","nm":640,"A":0.256},{"set":"I₂","nm":660,"A":0.253},{"set":"I₂","nm":683,"A":0.25}
    ]
  },
  "hconcat": [
    {
      "width": 378,
      "height": 284,
      "data": {"name": "a"},
      "title": {"text": "a）", "anchor": "start", "frame": "bounds", "offset": -31, "dx": 2, "fontSize": 20, "fontWeight": "bold", "font": "Liberation Sans, Noto Sans CJK SC", "color": "#000"},
      "layer": [
        {
          "mark": {"type": "line", "interpolate": "monotone", "clip": true},
          "encoding": {
            "x": {
              "field": "nm", "type": "quantitative",
              "scale": {"domain": [190, 900], "nice": false, "zero": false},
              "axis": {
                "orient": "bottom",
                "values": [200, 250, 300, 350, 400, 450, 500, 550, 600, 650, 700, 750, 800, 850],
                "labelExpr": "datum.value % 100 === 0 ? datum.label : ''",
                "tickSize": {"condition": {"test": "datum.value % 100 === 0", "value": -6}, "value": -3},
                "labelPadding": 8.5,
                "title": "Wavelength / nm",
                "titleFontSize": 20,
                "titlePadding": 0
              }
            },
            "y": {
              "field": "A", "type": "quantitative",
              "scale": {"domain": [-0.05, 1.49], "nice": false, "zero": false},
              "axis": {
                "orient": "left",
                "values": [0, 0.25, 0.5, 0.75, 1, 1.25],
                "labelExpr": "datum.value % 0.5 === 0 ? format(datum.value, '.1f') : ''",
                "tickSize": {"condition": {"test": "datum.value % 0.5 === 0", "value": -6}, "value": -3},
                "labelPadding": 12,
                "title": "Absorbance / a.u.",
                "titleFontSize": 21,
                "titlePadding": 8,
                "titleY": 151
              }
            },
            "color": {
              "field": "set", "type": "nominal",
              "scale": {"domain": ["BT Monomer", "DMF", "CH₃OH", "C₂H₅OH"], "range": ["#000000", "#ff0000", "#00ff00", "#ff00ff"]},
              "legend": {"legendX": 201, "legendY": 5, "clipHeight": 26.3, "symbolSize": 1024, "symbolStrokeWidth": 2.4, "labelFontSize": 17, "labelOffset": 1}
            },
            "strokeWidth": {
              "field": "set", "type": "nominal",
              "scale": {"domain": ["BT Monomer", "DMF", "CH₃OH", "C₂H₅OH"], "range": [2, 2.8, 2.8, 2.8]},
              "legend": null
            }
          }
        },
        {
          "mark": {"type": "line", "opacity": 0},
          "encoding": {
            "x": {
              "field": "nm", "type": "quantitative",
              "axis": {
                "orient": "top", "labels": false, "title": null,
                "values": [200, 250, 300, 350, 400, 450, 500, 550, 600, 650, 700, 750, 800, 850],
                "tickSize": {"condition": {"test": "datum.value % 100 === 0", "value": -6}, "value": -3}
              }
            },
            "y": {
              "field": "A", "type": "quantitative",
              "axis": {
                "orient": "right", "labels": false, "title": null,
                "values": [0, 0.25, 0.5, 0.75, 1, 1.25],
                "tickSize": {"condition": {"test": "datum.value % 0.5 === 0", "value": -6}, "value": -3}
              }
            },
            "detail": {"field": "set"}
          }
        }
      ]
    },
    {
      "width": 371,
      "height": 281,
      "data": {"name": "b"},
      "title": {"text": "b）", "anchor": "start", "frame": "bounds", "offset": -31, "dx": 4, "fontSize": 20, "fontWeight": "bold", "font": "Liberation Sans, Noto Sans CJK SC", "color": "#000"},
      "layer": [
        {
          "mark": {"type": "line", "interpolate": "monotone", "clip": true, "strokeWidth": 1.8},
          "encoding": {
            "x": {
              "field": "nm", "type": "quantitative",
              "scale": {"domain": [200, 683], "nice": false, "zero": false},
              "axis": {
                "orient": "bottom",
                "values": [200, 250, 300, 350, 400, 450, 500, 550, 600, 650],
                "labelExpr": "datum.value % 100 === 0 ? datum.label : ''",
                "tickSize": {"condition": {"test": "datum.value % 100 === 0", "value": -6}, "value": -3},
                "labelPadding": 8.5,
                "title": "Wavelength / nm",
                "titleFontSize": 20,
                "titlePadding": 0,
                "titleX": 192
              }
            },
            "y": {
              "field": "A", "type": "quantitative",
              "scale": {"domain": [-0.05, 1.505], "nice": false, "zero": false},
              "axis": {
                "orient": "left",
                "values": [0, 0.25, 0.5, 0.75, 1, 1.25],
                "labelExpr": "datum.value % 0.5 === 0 ? format(datum.value, '.1f') : ''",
                "tickSize": {"condition": {"test": "datum.value % 0.5 === 0", "value": -6}, "value": -3},
                "labelPadding": 12,
                "title": "Absorbance / a.u.",
                "titleFontSize": 22,
                "titlePadding": 12,
                "titleY": 146
              }
            },
            "color": {
              "field": "set", "type": "nominal",
              "scale": {"domain": ["NaClO", "FeCl₃", "（NH₄）₂S₂O₈", "H₂O₂", "I₂", "BT Monomer"], "range": ["#ff00ff", "#ff0000", "#0000ff", "#008080", "#808000", "#000000"]},
              "legend": {"legendX": 200, "legendY": 16, "clipHeight": 22, "symbolSize": 961, "symbolStrokeWidth": 2, "labelFontSize": 16.5, "labelOffset": 5}
            }
          }
        },
        {
          "mark": {"type": "line", "opacity": 0},
          "encoding": {
            "x": {
              "field": "nm", "type": "quantitative",
              "axis": {
                "orient": "top", "labels": false, "title": null,
                "values": [200, 250, 300, 350, 400, 450, 500, 550, 600, 650],
                "tickSize": {"condition": {"test": "datum.value % 100 === 0", "value": -6}, "value": -3}
              }
            },
            "y": {"field": "A", "type": "quantitative"},
            "detail": {"field": "set"}
          }
        }
      ]
    }
  ]
}
